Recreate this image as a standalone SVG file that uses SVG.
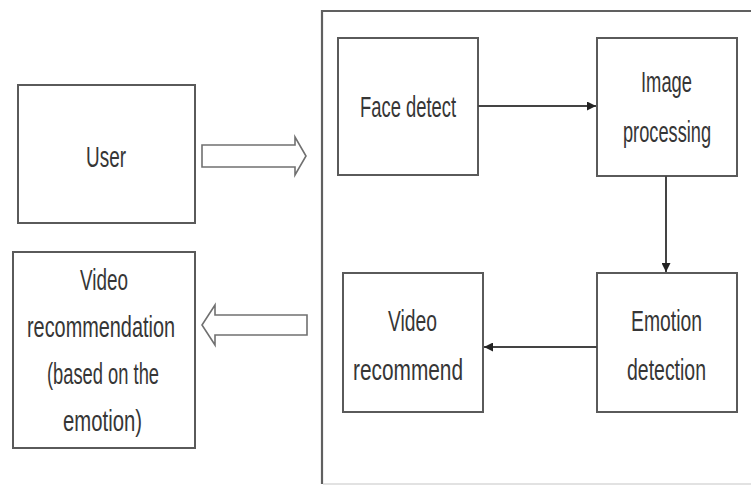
<svg xmlns="http://www.w3.org/2000/svg" width="751" height="485" viewBox="0 0 751 485">
  <style>
    .box { fill: #ffffff; stroke: #5a5a5a; stroke-width: 2; }
    .hollow { fill: #ffffff; stroke: #707070; stroke-width: 1.6; stroke-linejoin: miter; }
    .link { fill: none; stroke: #444444; stroke-width: 2; }
    .lbl { font-family: "Liberation Sans", Arial, sans-serif; font-size: 29px; fill: #363636; }
  </style>
  <defs>
    <marker id="head" viewBox="0 0 10 10" refX="10" refY="5" markerWidth="4.5" markerHeight="4.5" orient="auto" markerUnits="strokeWidth">
      <path d="M0,0 L10,5 L0,10 Z" fill="#222222"/>
    </marker>
  </defs>
  <rect width="751" height="485" fill="#ffffff"/>

  <!-- processing frame -->
  <g id="frame">
    <path d="M322,484 L322,11 L751,11" fill="none" stroke="#606060" stroke-width="2.2"/>
    <line x1="323" y1="484" x2="751" y2="484" stroke="#d8d8d8" stroke-width="1.5"/>
  </g>

  <g id="user">
    <rect class="box" x="18" y="85" width="177" height="138"/>
    <text class="lbl" x="86" y="167" textLength="40" lengthAdjust="spacingAndGlyphs">User</text>
  </g>

  <g id="video-recommendation">
    <rect class="box" x="13" y="252" width="182" height="196"/>
    <text class="lbl" x="80" y="290" textLength="48" lengthAdjust="spacingAndGlyphs">Video</text>
    <text class="lbl" x="27" y="337" textLength="148" lengthAdjust="spacingAndGlyphs">recommendation</text>
    <text class="lbl" x="47" y="384" textLength="112" lengthAdjust="spacingAndGlyphs">(based on the</text>
    <text class="lbl" x="63" y="431" textLength="79" lengthAdjust="spacingAndGlyphs">emotion)</text>
  </g>

  <g id="face-detect">
    <rect class="box" x="338" y="38" width="140" height="137"/>
    <text class="lbl" x="360" y="117" textLength="96" lengthAdjust="spacingAndGlyphs">Face detect</text>
  </g>

  <g id="image-processing">
    <rect class="box" x="597" y="38" width="140" height="138"/>
    <text class="lbl" x="641" y="92" textLength="51" lengthAdjust="spacingAndGlyphs">Image</text>
    <text class="lbl" transform="translate(623 142) scale(0.628 1)">processing</text>
  </g>

  <g id="emotion-detection">
    <rect class="box" x="597" y="273" width="140" height="139"/>
    <text class="lbl" x="631" y="331" textLength="71" lengthAdjust="spacingAndGlyphs">Emotion</text>
    <text class="lbl" x="627" y="380" textLength="79" lengthAdjust="spacingAndGlyphs">detection</text>
  </g>

  <g id="video-recommend">
    <rect class="box" x="343" y="273" width="140" height="139"/>
    <text class="lbl" x="388" y="331" textLength="49" lengthAdjust="spacingAndGlyphs">Video</text>
    <text class="lbl" x="353" y="380" textLength="110" lengthAdjust="spacingAndGlyphs">recommend</text>
  </g>

  <g id="connectors">
    <!-- block arrows between the outer boxes and the frame -->
    <path class="hollow" d="M202,145 L295,145 L295,137 L306,156 L295,175 L295,167 L202,167 Z"/>
    <path class="hollow" d="M307,315 L215,315 L215,305 L202,325 L215,345 L215,335 L307,335 Z"/>
    <!-- flow inside the frame -->
    <line class="link" x1="478" y1="106" x2="596" y2="106" marker-end="url(#head)"/>
    <line class="link" x1="666" y1="176" x2="666" y2="272" marker-end="url(#head)"/>
    <line class="link" x1="597" y1="347" x2="484" y2="347" marker-end="url(#head)"/>
  </g>
</svg>
